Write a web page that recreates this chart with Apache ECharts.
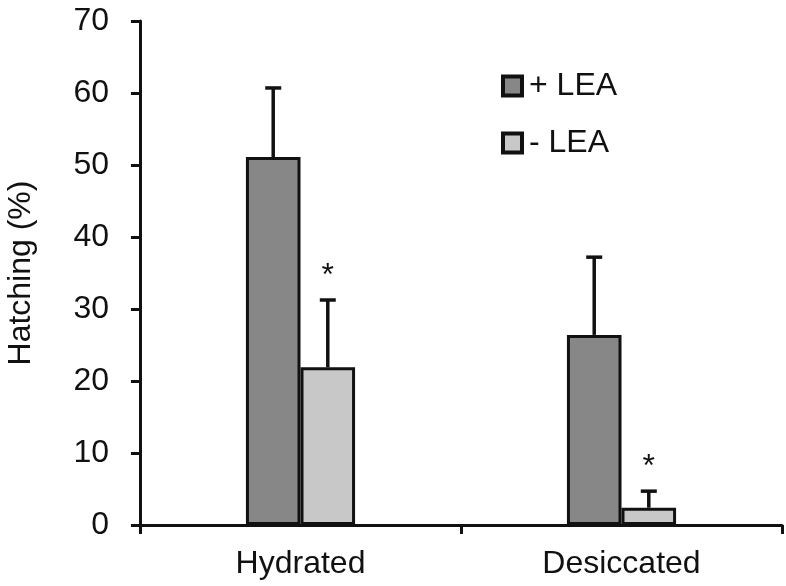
<!DOCTYPE html>
<html>
<head>
<meta charset="utf-8">
<script src="https://cdn.jsdelivr.net/npm/echarts@6/dist/echarts.min.js"></script>
<style>html,body{margin:0;padding:0;background:#fff}#c{width:786px;height:586px}</style>
</head>
<body>
<div id="c"></div>
<script>
var categories = ['Hydrated', 'Desiccated'];
var plusLEA = [51.1, 26.4];
var plusErr = [9.6, 10.8];
var minusLEA = [21.9, 2.4];
var minusErr = [9.35, 2.3];
var minusMarks = ['*', '*'];
var yTicks = [0, 10, 20, 30, 40, 50, 60, 70];

var FONT = 'Liberation Sans, Arial, sans-serif';
var BAR_FRAC = 0.17;

function errRender(seriesIdx, vals, errs, marks) {
  return function (params, api) {
    var i = api.value(0);
    var v = vals[i], e = errs[i];
    var base = api.coord([i, v]);
    var top = api.coord([i, v + e]);
    var cw = api.size([1, 0])[0];
    var bw = cw * BAR_FRAC;
    var x = base[0] + (seriesIdx === 0 ? -bw / 2 : bw / 2);
    var capHalf = 8;
    var st = { stroke: '#111', lineWidth: 3.5 };
    var children = [
      { type: 'line', shape: { x1: x, y1: base[1], x2: x, y2: top[1] }, style: st },
      { type: 'line', shape: { x1: x - capHalf, y1: top[1], x2: x + capHalf, y2: top[1] }, style: st }
    ];
    if (marks && marks[i]) {
      children.push({ type: 'text', style: { text: marks[i], x: x, y: top[1] - 24, align: 'center', verticalAlign: 'middle', fontSize: 32, fontFamily: FONT, fill: '#111' } });
    }
    return { type: 'group', children: children };
  };
}

var chart = echarts.init(document.getElementById('c'), null, { renderer: 'canvas' });
chart.setOption({
  animation: false,
  backgroundColor: '#fff',
  grid: { left: 140, right: 4, top: 21, bottom: 61, containLabel: false, outerBoundsMode: 'none' },
  legend: {
    data: ['+ LEA', '- LEA'],
    orient: 'vertical',
    left: 496,
    top: 65,
    icon: 'rect',
    itemWidth: 19,
    itemHeight: 19,
    itemGap: 25,
    itemStyle: { borderColor: '#111', borderWidth: 4 },
    textStyle: { fontSize: 32, fontFamily: FONT, color: '#111', padding: [0, 0, 0, 2] }
  },
  xAxis: {
    type: 'category',
    data: categories,
    boundaryGap: true,
    axisLine: { lineStyle: { color: '#111', width: 3 } },
    axisTick: { show: true, length: 9, lineStyle: { color: '#111', width: 3 } },
    axisLabel: { fontSize: 32, fontFamily: FONT, color: '#111', margin: 23 }
  },
  yAxis: {
    type: 'value',
    min: 0, max: 70, interval: 10,
    name: 'Hatching (%)',
    nameLocation: 'middle',
    nameGap: 103,
    nameTextStyle: { fontSize: 32, fontFamily: FONT, color: '#111' },
    axisLine: { show: true, lineStyle: { color: '#111', width: 3 } },
    axisTick: { show: true, length: 9, lineStyle: { color: '#111', width: 3 } },
    splitLine: { show: false },
    axisLabel: { fontSize: 32, fontFamily: FONT, color: '#111', margin: 31,
      formatter: function (v) { return yTicks.indexOf(v) >= 0 ? String(v) : ''; } }
  },
  series: [
    { name: '+ LEA', type: 'bar', data: plusLEA, barWidth: (BAR_FRAC * 100) + '%', barGap: '0%',
      itemStyle: { color: '#878787', borderColor: '#111', borderWidth: 3 }, z: 2 },
    { name: '- LEA', type: 'bar', data: minusLEA, barWidth: (BAR_FRAC * 100) + '%', barGap: '0%',
      itemStyle: { color: '#c8c8c8', borderColor: '#111', borderWidth: 3 }, z: 2 },
    { type: 'custom', data: categories.map(function (c, i) { return [i]; }),
      renderItem: errRender(0, plusLEA, plusErr, null), z: 3, silent: true },
    { type: 'custom', data: categories.map(function (c, i) { return [i]; }),
      renderItem: errRender(1, minusLEA, minusErr, minusMarks), z: 3, silent: true }
  ]
});
</script>
</body>
</html>
